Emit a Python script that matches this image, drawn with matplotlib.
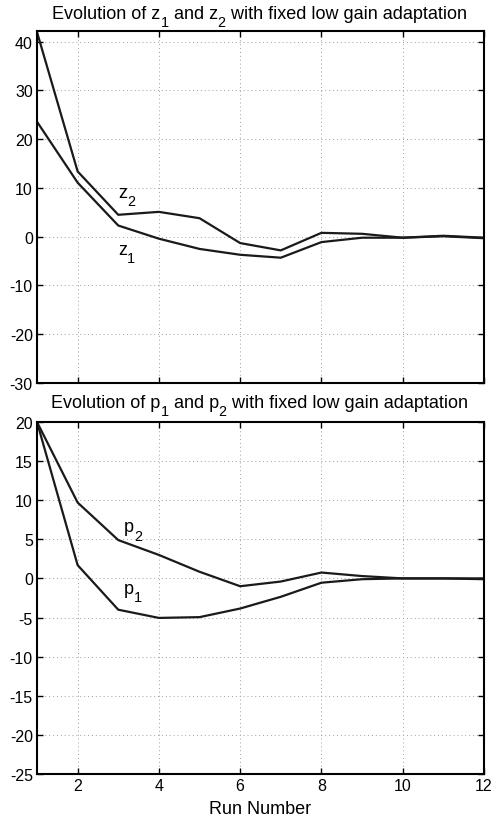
import matplotlib
matplotlib.use("Agg")
import matplotlib.pyplot as plt
from matplotlib.transforms import offset_copy

plt.rcParams['font.family'] = ['Liberation Sans', 'DejaVu Sans']
plt.rcParams['axes.unicode_minus'] = False

# run numbers and the values
runs = [1, 2, 3, 4, 5, 6, 7, 8, 9, 10, 11, 12]
z1 = [23.6, 11.1, 2.3, -0.4, -2.5, -3.7, -4.3, -1.1, -0.2, -0.2, 0.1, -0.3]
z2 = [42.0, 13.4, 4.5, 5.1, 3.8, -1.3, -2.8, 0.8, 0.6, -0.2, 0.2, -0.2]
p1 = [20.0, 1.7, -4.0, -5.05, -4.95, -3.85, -2.35, -0.55, -0.1, 0.0, 0.0, -0.1]
p2 = [20.0, 9.7, 4.9, 3.0, 0.85, -1.0, -0.4, 0.75, 0.3, 0.0, 0.0, 0.0]

xticks = [2, 4, 6, 8, 10, 12]
z_yticks = [-30, -20, -10, 0, 10, 20, 30, 40]
p_yticks = [-25, -20, -15, -10, -5, 0, 5, 10, 15, 20]

fig = plt.figure(figsize=(4.97, 8.2), dpi=100)
ax1 = fig.add_axes([0.0744, 0.5317, 0.8994, 0.4293])
ax2 = fig.add_axes([0.0744, 0.0549, 0.8994, 0.4293])
renderer = fig.canvas.get_renderer()


def sub_text(pieces, x, y, size, transform, center=False):
    # draw text with MATLAB-like subscripts, piece by piece
    # pieces: list of (string, is_subscript)
    texts = []
    dx = 0.0
    for s, is_sub in pieces:
        fs = size * 0.8 if is_sub else size
        dy = -size * 0.45 if is_sub else 0
        t = fig.text(x, y, s, fontsize=fs, transform=offset_copy(
            transform, fig=fig, x=dx, y=dy, units='points'), va='baseline')
        w = t.get_window_extent(renderer).width * 72 / fig.dpi
        dx += w
        texts.append((t, dx - w, dy))
    if center:
        for t, off, dy in texts:
            t.set_transform(offset_copy(transform, fig=fig, x=off - dx / 2,
                                        y=dy, units='points'))


def style(ax, yticks, ylim):
    ax.set_xlim(1, 12)
    ax.set_ylim(*ylim)
    ax.set_xticks(xticks)
    ax.set_yticks(yticks)
    ax.grid(True, linestyle=(0, (1, 3)), color='#a0a0a0', linewidth=0.7)
    ax.tick_params(direction='in', top=True, right=True, length=4,
                   labelsize=11.5, width=1, pad=3)
    for s in ax.spines.values():
        s.set_linewidth(1.5)


# top panel: z1, z2
ax1.plot(runs, z1, color='#1a1a1a', lw=1.6)
ax1.plot(runs, z2, color='#1a1a1a', lw=1.6)
style(ax1, z_yticks, (-30, 42.2))
ax1.set_xticklabels([])
sub_text([('z', False), ('2', True)], 3.0, 8.2, 13, ax1.transData)
sub_text([('z', False), ('1', True)], 3.0, -3.6, 13, ax1.transData)
sub_text([('Evolution of z', False), ('1', True), (' and z', False),
          ('2', True), (' with fixed low gain adaptation', False)],
         0.522, 1 - 19 / 820, 13, fig.transFigure, center=True)

# bottom panel: p1, p2
ax2.plot(runs, p1, color='#1a1a1a', lw=1.6)
ax2.plot(runs, p2, color='#1a1a1a', lw=1.6)
style(ax2, p_yticks, (-25, 20))
sub_text([('p', False), ('2', True)], 3.14, 6.0, 13, ax2.transData)
sub_text([('p', False), ('1', True)], 3.14, -1.9, 13, ax2.transData)
sub_text([('Evolution of p', False), ('1', True), (' and p', False),
          ('2', True), (' with fixed low gain adaptation', False)],
         0.522, 1 - 408 / 820, 13, fig.transFigure, center=True)
ax2.set_xlabel('Run Number', fontsize=13, labelpad=5)

fig.savefig('out.png', dpi=100)
